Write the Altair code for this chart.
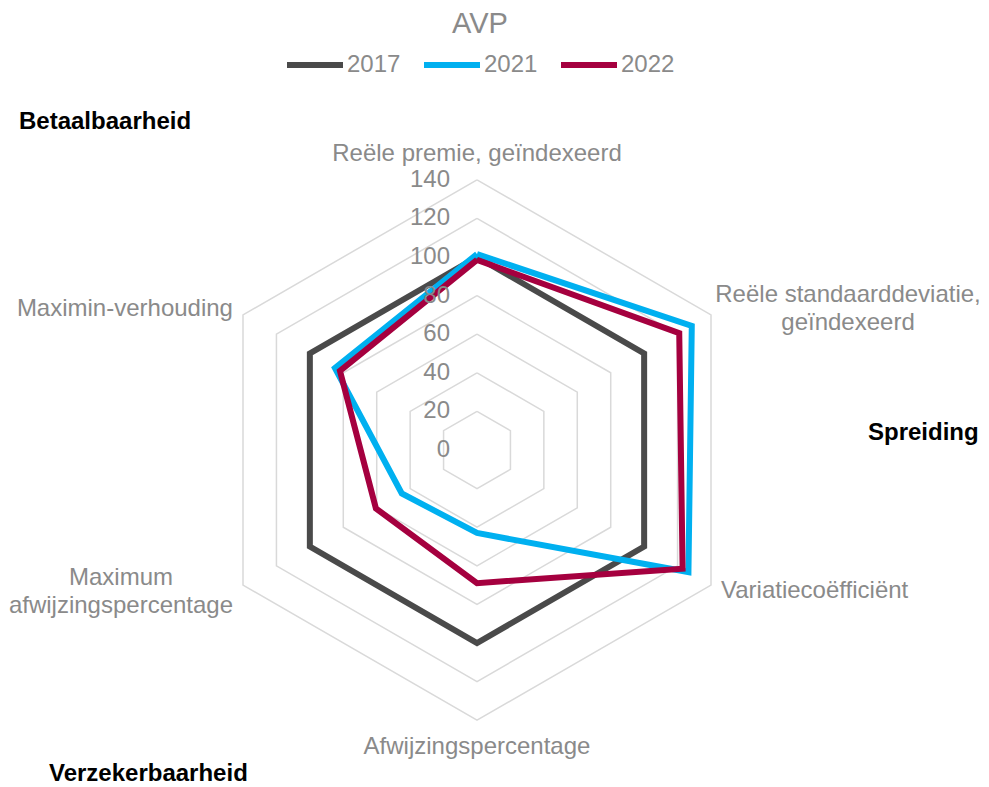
import math
import altair as alt
import pandas as pd

# ---------------- data ----------------
categories = [
    "Reële premie, geïndexeerd",
    "Reële standaarddeviatie,\ngeïndexeerd",
    "Variatiecoëfficiënt",
    "Afwijzingspercentage",
    "Maximum\nafwijzingspercentage",
    "Maximin-verhouding",
]
years = ["2017", "2021", "2022"]
values_2017 = [100, 100, 100, 100, 100, 100]
values_2021 = [101.5, 128.5, 126.5, 43, 45, 85]
values_2022 = [98.5, 121, 123, 69, 60.5, 82]
ring_levels = [20, 40, 60, 80, 100, 120, 140]
tick_values = [0, 20, 40, 60, 80, 100, 120, 140]
tick_labels = ["0", "20", "40", "60", "80", "100", "120", "140"]
colors = ["#4a4a4a", "#00b0f0", "#a5003f"]

FONT = "Liberation Sans"
GRAY = "#8a8a8a"
FS = 24

# ---------------- layout ----------------
PX = 1.93          # pixels per value unit
W, H = 973, 779
CX, CY = 469, 442  # centre of the radar in plot pixels
xs = alt.Scale(domain=[-CX / PX, (W - CX) / PX], nice=False, zero=False)
ys = alt.Scale(domain=[-(H - CY) / PX, CY / PX], nice=False, zero=False)
n = len(categories)

# ---------------- tables ----------------
series_rows = []
for yr, vals in zip(years, [values_2017, values_2021, values_2022]):
    for k in range(n + 1):
        series_rows.append({"year": yr, "order": k, "pos": k % n, "value": vals[k % n]})
series_df = pd.DataFrame(series_rows)

ring_rows = []
for lv in ring_levels:
    for k in range(n + 1):
        ring_rows.append({"level": lv, "order": k, "pos": k % n, "value": lv})
ring_df = pd.DataFrame(ring_rows)

tick_df = pd.DataFrame({"value": tick_values, "label": tick_labels})
cat_df = pd.DataFrame({"label": categories, "pos": list(range(n)), "value": [146] * n})

polar = dict(
    x=f"datum.value * sin(datum.pos * 2 * PI / {n})",
    y=f"datum.value * cos(datum.pos * 2 * PI / {n})",
)

X = alt.X("x:Q", scale=xs, axis=None)
Y = alt.Y("y:Q", scale=ys, axis=None)

rings = (
    alt.Chart(ring_df)
    .transform_calculate(**polar)
    .mark_line(color="#d9d9d9", strokeWidth=1.5)
    .encode(x=X, y=Y, detail="level:N", order="order:Q")
)

series = (
    alt.Chart(series_df)
    .transform_calculate(**polar)
    .mark_line(strokeWidth=6, strokeJoin="miter")
    .encode(
        x=X,
        y=Y,
        order="order:Q",
        color=alt.Color(
            "year:N",
            scale=alt.Scale(domain=years, range=colors),
            legend=alt.Legend(
                title=None,
                orient="none",
                direction="horizontal",
                legendX=276,
                legendY=26,
                symbolType="stroke",
                symbolSize=3136,
                symbolStrokeWidth=6,
                labelFont=FONT,
                labelFontSize=FS,
                labelColor=GRAY,
                labelOffset=1,
                columnPadding=11,
                padding=0,
            ),
        ),
    )
)

ticks = (
    alt.Chart(tick_df)
    .transform_calculate(x="0", y="datum.value")
    .mark_text(align="right", baseline="middle", dx=-27, font=FONT, fontSize=FS, color=GRAY)
    .encode(x=X, y=Y, text="label:N")
)

label_styles = [
    dict(align="center", baseline="bottom", dx=0, dy=-2),
    dict(align="center", baseline="middle", dx=127, dy=-14),
    dict(align="left", baseline="middle", dx=0, dy=0),
    dict(align="center", baseline="top", dx=0, dy=3),
    dict(align="center", baseline="middle", dx=-112, dy=-13),
    dict(align="right", baseline="middle", dx=0, dy=0),
]
cat_layers = []
for i, st in enumerate(label_styles):
    cat_layers.append(
        alt.Chart(cat_df)
        .transform_filter(f"datum.pos == {i}")
        .transform_calculate(**polar)
        .mark_text(font=FONT, fontSize=FS, color=GRAY, lineBreak="\n", lineHeight=28, **st)
        .encode(x=X, y=Y, text="label:N")
    )

title = (
    alt.Chart(pd.DataFrame({"t": ["AVP"]}))
    .mark_text(font=FONT, fontSize=29, color=GRAY, align="center", baseline="middle")
    .encode(x=alt.value(472), y=alt.value(16), text="t:N")
)

group_df = pd.DataFrame({"t": ["Betaalbaarheid", "Spreiding", "Verzekerbaarheid"]})
groups = []
for name, gx, gy in [("Betaalbaarheid", 11, 114), ("Spreiding", 860, 425), ("Verzekerbaarheid", 41, 766)]:
    groups.append(
        alt.Chart(group_df)
        .transform_filter(f"datum.t == '{name}'")
        .mark_text(font=FONT, fontSize=FS, fontWeight="bold", color="#000000", align="left", baseline="middle")
        .encode(x=alt.value(gx), y=alt.value(gy), text="t:N")
    )

chart = (
    alt.layer(rings, series, ticks, *cat_layers, title, *groups)
    .properties(width=W, height=H, padding=0, autosize="none")
    .configure_view(stroke=None)
)

chart.save("out.html", embed_options={"renderer": "svg", "actions": False})
